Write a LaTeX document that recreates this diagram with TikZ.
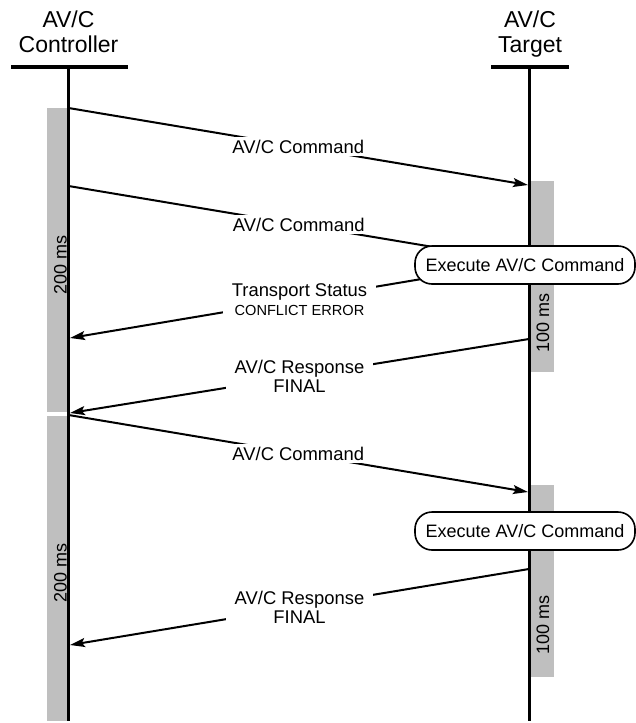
\documentclass[tikz,border=0pt]{standalone}
\usepackage{fontspec}
\setmainfont{Liberation Sans}
\usetikzlibrary{arrows.meta}
\newcommand{\capsline}[1]{{\fontsize{14.6}{17}\selectfont #1}}
\begin{document}
\begin{tikzpicture}[x=1pt,y=-1pt,
  lifeline/.style={line width=3pt},
  headbar/.style={line width=4.5pt},
  busy/.style={fill=black!25,draw=none},
  msg/.style={line width=2pt,-{Stealth[length=15pt,width=9pt,inset=3pt]}},
  plainmsg/.style={line width=2pt},
  msglabel/.style={fill=white,inner xsep=9pt,inner ysep=3pt,align=center,
    font=\fontsize{18.4}{19}\selectfont},
  action/.style={draw,line width=1.6pt,fill=white,rounded corners=17pt,
    minimum height=38pt,minimum width=220pt,inner xsep=0pt,
    font=\fontsize{18}{21}\selectfont},
  timer/.style={rotate=90,inner sep=0pt,font=\fontsize{18}{21}\selectfont},
  header/.style={inner sep=0pt,anchor=base,font=\fontsize{23}{25}\selectfont},
]
\useasboundingbox (0,0) rectangle (636,723);

% busy periods
\fill[busy] (47,108) rectangle (68,412);
\fill[busy] (47,416) rectangle (68,721);
\fill[busy] (531,181) rectangle (554,372);
\fill[busy] (531,485) rectangle (554,677);

\node[timer] (t1) at (60.5,265) {200 ms};
\node[timer] (t2) at (60.5,573) {200 ms};
\node[timer] (t3) at (543,323) {100 ms};
\node[timer] (t4) at (543,625) {100 ms};

% participants
\node[header] (ctrlA) at (68.5,27.5) {AV/C};
\node[header] (ctrlB) at (68.5,52.5) {Controller};
\node[header] (tgtA) at (530,27.5) {AV/C};
\node[header] (tgtB) at (530,52.5) {Target};

\draw[headbar] (11,67) -- (128,67);
\draw[headbar] (491,67) -- (569,67);

\coordinate (cTop) at (68.5,67);
\coordinate (cBot) at (68.5,721);
\coordinate (tTop) at (529.5,67);
\coordinate (tBot) at (529.5,721);
\draw[lifeline] (cTop) -- (cBot);
\draw[lifeline] (tTop) -- (tBot);

% first transaction
\coordinate (m1s) at (68.5,108);
\coordinate (m1e) at (528,185);
\draw[msg] (m1s) -- (m1e)
  node[msglabel,pos=0.5] (l1) {AV/C Command};

\coordinate (m2s) at (68.5,186);
\coordinate (m2e) at (529,263);
\draw[plainmsg] (m2s) -- (m2e)
  node[msglabel,pos=0.5] (l2) {AV/C Command};

\coordinate (m4s) at (529,261);
\coordinate (m4e) at (70,338);
\draw[msg] (m4s) -- (m4e)
  node[msglabel,pos=0.5] (l4) {Transport Status\\\capsline{CONFLICT ERROR}};

\coordinate (m5s) at (529,339);
\coordinate (m5e) at (70,413);
\draw[msg] (m5s) -- (m5e)
  node[msglabel,pos=0.5] (l5) {AV/C Response\\FINAL};

% second transaction
\coordinate (m6s) at (68.5,415);
\coordinate (m6e) at (528,492);
\draw[msg] (m6s) -- (m6e)
  node[msglabel,pos=0.5] (l6) {AV/C Command};

\coordinate (m8s) at (529,569);
\coordinate (m8e) at (70,645);
\draw[msg] (m8s) -- (m8e)
  node[msglabel,pos=0.5] (l8) {AV/C Response\\FINAL};

% command execution
\node[action] (x1) at (525,265) {Execute AV/C Command};
\node[action] (x2) at (525,531) {Execute AV/C Command};
\end{tikzpicture}
\end{document}
